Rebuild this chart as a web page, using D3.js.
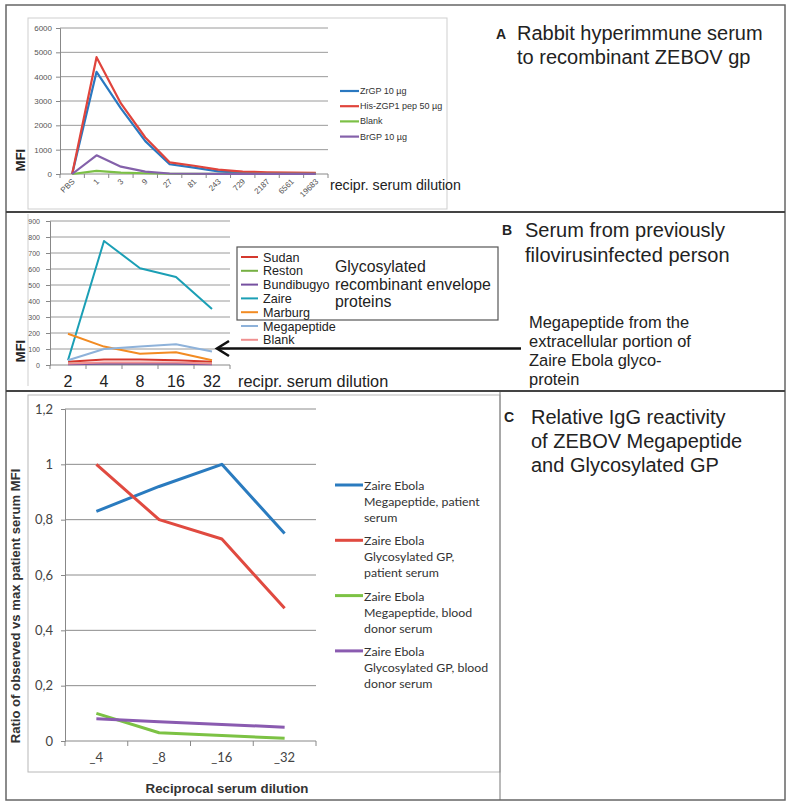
<!DOCTYPE html>
<html><head><meta charset="utf-8">
<script src="https://cdn.jsdelivr.net/npm/d3@7"></script>
<style>body{margin:0;background:#fff}svg{display:block}</style>
</head><body>
<svg id="c" width="789" height="803"></svg>
<script>
// ---------- Panel A data ----------
const catsA = ["PBS","1","3","9","27","81","243","729","2187","6561","19683"];
const ticksA = [0,1000,2000,3000,4000,5000,6000];
const namesA = ["ZrGP 10 µg","His-ZGP1 pep 50 µg","Blank","BrGP 10 µg"];
const colorsA = ["#2a78c0","#e0443c","#7cc046","#8461aa"];
const zrgp   = [0,4200,2700,1350,400,260,110,50,30,20,20];
const hisZgp = [0,4800,2900,1500,480,340,180,100,70,55,50];
const blankA = [0,130,60,30,10,5,5,5,5,5,5];
const brgp   = [0,770,300,100,20,10,5,5,5,5,5];
const seriesA = [zrgp, hisZgp, blankA, brgp];

// ---------- Panel B data ----------
const catsB = ["2","4","8","16","32"];
const ticksB = [0,100,200,300,400,500,600,700,800,900];
const namesB = ["Sudan","Reston","Bundibugyo","Zaire","Marburg","Megapeptide","Blank"];
const colorsB = ["#d4382e","#76b043","#7650a0","#1b9fb5","#f28b22","#8eb2da","#f09090"];
const sudan   = [20,35,35,30,20];
const reston  = [8,10,10,10,8];
const bundi   = [5,8,8,8,5];
const zaire   = [30,775,605,550,350];
const marburg = [195,115,70,80,30];
const megaB   = [30,100,115,130,85];
const blankB  = [10,15,15,15,10];
const seriesB = [sudan, reston, bundi, zaire, marburg, megaB, blankB];

// ---------- Panel C data ----------
const catsC = ["_4","_8","_16","_32"];
const ticksC = [0,0.2,0.4,0.6,0.8,1,1.2];
const namesC = [
  ["Zaire Ebola","Megapeptide, patient","serum"],
  ["Zaire Ebola","Glycosylated GP,","patient serum"],
  ["Zaire Ebola","Megapeptide, blood","donor serum"],
  ["Zaire Ebola","Glycosylated GP, blood","donor serum"]];
const colorsC = ["#2a7bbf","#e04a40","#7cc244","#8a5bb0"];
const megaPatient  = [0.83,0.92,1.0,0.75];
const glycoPatient = [1.0,0.80,0.73,0.48];
const megaDonor    = [0.10,0.03,0.02,0.01];
const glycoDonor   = [0.08,0.07,0.06,0.05];
const seriesC = [megaPatient, glycoPatient, megaDonor, glycoDonor];

const svg = d3.select("#c");
const AR = "'Liberation Sans', Arial, sans-serif";
const CAL = "Lato, 'Open Sans', sans-serif";

// font size that makes a sample string reach a target width
function fitSize(family, weight, sample, target, base){
  const t = svg.append("text").attr("font-family",family).attr("font-weight",weight)
    .attr("font-size",base).text(sample);
  const w = t.node().getComputedTextLength();
  t.remove();
  return w > 0 ? base*target/w : base;
}

svg.append("rect").attr("width",789).attr("height",803).attr("fill","#fff");

// inner chart frames
svg.append("rect").attr("x",28).attr("y",18).attr("width",419).attr("height",191)
  .attr("fill","none").attr("stroke","#cfcfcf");
svg.append("line").attr("x1",28).attr("x2",28).attr("y1",214).attr("y2",386).attr("stroke","#cfcfcf");
svg.append("rect").attr("x",28).attr("y",395).attr("width",472).attr("height",377)
  .attr("fill","none").attr("stroke","#b8b8b8");
svg.append("line").attr("x1",500).attr("x2",500).attr("y1",391).attr("y2",800).attr("stroke","#777");

// outer frame and separators
svg.append("rect").attr("x",6).attr("y",5).attr("width",779).attr("height",795)
  .attr("fill","none").attr("stroke","#666").attr("stroke-width",1.5);
[212,391].forEach(y=>svg.append("line").attr("x1",6).attr("x2",785).attr("y1",y).attr("y2",y)
  .attr("stroke","#444").attr("stroke-width",2));

function panel(opt){
  const g = svg.append("g");
  const x = d3.scaleBand().domain(opt.cats).range([opt.x0,opt.x1]);
  const y = d3.scaleLinear().domain([0,opt.ymax]).range([opt.yb,opt.yt]);
  g.selectAll(".gl").data(opt.ticks.filter(t=>t>0)).join("line")
    .attr("x1",opt.x0).attr("x2",opt.x1).attr("y1",d=>y(d)).attr("y2",d=>y(d))
    .attr("stroke",opt.gcol||"#9a9a9a").attr("stroke-width",1);
  const ya = g.append("g").attr("transform",`translate(${opt.x0},0)`)
    .call(d3.axisLeft(y).tickValues(opt.ticks).tickSize(4).tickPadding(opt.ypad||4).tickFormat(opt.yfmt));
  ya.select(".domain").attr("stroke","#888");
  ya.selectAll(".tick line").attr("stroke","#888");
  ya.selectAll("text").attr("font-family",opt.yfont||AR).attr("font-size",opt.yfs).attr("fill",opt.tcol||"#555");
  const xa = g.append("g").attr("transform",`translate(0,${opt.yb})`);
  xa.append("line").attr("x1",opt.x0).attr("x2",opt.x1).attr("stroke","#888");
  const bounds = opt.cats.map(c=>x(c)).concat([opt.x1]);
  xa.selectAll(".tk").data(bounds).join("line").attr("x1",d=>d).attr("x2",d=>d)
    .attr("y1",0).attr("y2",opt.xtick||4).attr("stroke","#888");
  const lab = xa.selectAll(".lb").data(opt.cats).join("text")
    .attr("font-family",opt.xfont||AR).attr("font-size",opt.xfs).attr("fill",opt.xcol||"#555").text(d=>d);
  if(opt.rot){
    lab.attr("text-anchor","end")
      .attr("transform",d=>`translate(${x(d)+x.bandwidth()/2+3},${8}) rotate(-45)`);
  } else {
    lab.attr("text-anchor","middle").attr("x",d=>x(d)+x.bandwidth()/2).attr("y",opt.xly);
  }
  const line = d3.line().x((d,i)=>x(opt.cats[i])+x.bandwidth()/2).y(d=>y(d));
  opt.series.forEach((s,i)=>{
    g.append("path").datum(s).attr("d",line).attr("fill","none")
      .attr("stroke",opt.colors[i]).attr("stroke-width",opt.lw).attr("stroke-linejoin","round");
  });
  return {x,y,g};
}

// ---------- Panel A ----------
panel({cats:catsA,ticks:ticksA,ymax:6000,x0:60,x1:328,yb:174,yt:28,yfs:8,xfs:8,rot:true,
  series:seriesA,colors:colorsA,lw:2.2,yfmt:d3.format("d")});
const legA = svg.append("g");
namesA.forEach((n,i)=>{
  const yy = 91 + i*15.2;
  legA.append("line").attr("x1",340).attr("x2",359).attr("y1",yy).attr("y2",yy)
    .attr("stroke",colorsA[i]).attr("stroke-width",2.2);
  legA.append("text").attr("x",360).attr("y",yy+3).attr("font-family",AR).attr("font-size",9)
    .attr("fill","#333").text(n);
});
svg.append("text").attr("x",330).attr("y",190).attr("font-family",AR).attr("font-size",14.2)
  .attr("fill","#222").text("recipr. serum dilution");
svg.append("text").attr("transform","translate(25,160) rotate(-90)").attr("text-anchor","middle")
  .attr("font-family",AR).attr("font-weight","bold").attr("font-size",13).attr("fill","#222").text("MFI");
svg.append("text").attr("x",496).attr("y",39).attr("font-family",AR).attr("font-weight","bold")
  .attr("font-size",14).attr("fill","#222").text("A");
svg.append("text").attr("x",517).attr("y",40).attr("font-family",AR).attr("font-size",20)
  .attr("fill","#222").text("Rabbit hyperimmune serum");
svg.append("text").attr("x",517).attr("y",64).attr("font-family",AR).attr("font-size",20)
  .attr("fill","#222").text("to recombinant ZEBOV gp");

// ---------- Panel B ----------
panel({cats:catsB,ticks:ticksB,ymax:900,x0:50,x1:230,yb:365,yt:221,yfs:7,xfs:16,xly:22,xcol:"#222",
  series:seriesB,colors:colorsB,lw:2,yfmt:d3.format("d"),ypad:6});
svg.append("text").attr("x",238).attr("y",387).attr("font-family",AR).attr("font-size",16.3)
  .attr("fill","#222").text("recipr. serum dilution");
svg.append("text").attr("transform","translate(25,351) rotate(-90)").attr("text-anchor","middle")
  .attr("font-family",AR).attr("font-weight","bold").attr("font-size",13).attr("fill","#222").text("MFI");
svg.append("rect").attr("x",237).attr("y",247).attr("width",261).attr("height",73)
  .attr("fill","#fff").attr("stroke","#555").attr("stroke-width",1.2);
const legB = svg.append("g");
namesB.forEach((n,i)=>{
  const yy = 257 + i*13.8;
  legB.append("line").attr("x1",241).attr("x2",258).attr("y1",yy).attr("y2",yy)
    .attr("stroke",colorsB[i]).attr("stroke-width",2);
  legB.append("text").attr("x",263).attr("y",yy+4.5).attr("font-family",AR).attr("font-size",12.6)
    .attr("fill","#222").text(n);
});
const fsGly = fitSize(AR, "normal", "recombinant envelope", 156, 15);
["Glycosylated","recombinant envelope","proteins"].forEach((t,i)=>{
  svg.append("text").attr("x",335).attr("y",272+i*17.5).attr("font-family",AR).attr("font-size",fsGly)
    .attr("fill","#222").text(t);
});
svg.append("line").attr("x1",217).attr("x2",521).attr("y1",348.5).attr("y2",348.5)
  .attr("stroke","#111").attr("stroke-width",2.6);
svg.append("path").attr("d","M229,341 L217,348.5 L229,356").attr("fill","none")
  .attr("stroke","#111").attr("stroke-width",2.6);
const fsMega = fitSize(AR, "normal", "extracellular portion of", 162, 14);
["Megapeptide from the","extracellular portion of","Zaire Ebola glyco-","protein"].forEach((t,i)=>{
  svg.append("text").attr("x",529).attr("y",328+i*19).attr("font-family",AR).attr("font-size",fsMega)
    .attr("fill","#222").text(t);
});
svg.append("text").attr("x",502).attr("y",235).attr("font-family",AR).attr("font-weight","bold")
  .attr("font-size",14).attr("fill","#222").text("B");
svg.append("text").attr("x",525).attr("y",237).attr("font-family",AR).attr("font-size",20)
  .attr("fill","#222").text("Serum from previously");
svg.append("text").attr("x",525).attr("y",262).attr("font-family",AR).attr("font-size",20)
  .attr("fill","#222").text("filovirusinfected person");

// ---------- Panel C ----------
const commaFmt = d => d===0 ? "0" : String(+d.toFixed(1)).replace(".",",");
panel({cats:catsC,ticks:ticksC,ymax:1.2,x0:65,x1:316,yb:741,yt:409,yfs:13,xfs:13,xly:21,
  yfont:CAL,xfont:CAL,tcol:"#444",xcol:"#444",xtick:5,ypad:8,gcol:"#8c8c8c",
  series:seriesC,colors:colorsC,lw:3,yfmt:commaFmt});
const yTitle = "Ratio of observed vs max patient serum MFI";
svg.append("text").attr("transform","translate(20,606) rotate(-90)").attr("text-anchor","middle")
  .attr("font-family",AR).attr("font-weight","bold").attr("font-size",fitSize(AR,"bold",yTitle,275,12))
  .attr("fill","#333").text(yTitle);
const xTitle = "Reciprocal serum dilution";
svg.append("text").attr("x",227).attr("y",793).attr("text-anchor","middle")
  .attr("font-family",AR).attr("font-weight","bold").attr("font-size",fitSize(AR,"bold",xTitle,163,12))
  .attr("fill","#333").text(xTitle);
const fsLegC = fitSize(CAL, "normal", "Megapeptide, patient", 116, 13);
const legC = svg.append("g");
namesC.forEach((lines,i)=>{
  const yy = 485 + i*55.3;
  legC.append("line").attr("x1",335).attr("x2",363).attr("y1",yy).attr("y2",yy)
    .attr("stroke",colorsC[i]).attr("stroke-width",3);
  lines.forEach((t,j)=>{
    legC.append("text").attr("x",364).attr("y",yy+5+j*16).attr("font-family",CAL).attr("font-size",fsLegC)
      .attr("fill","#333").text(t);
  });
});
svg.append("text").attr("x",504).attr("y",422).attr("font-family",AR).attr("font-weight","bold")
  .attr("font-size",14).attr("fill","#222").text("C");
[["Relative IgG reactivity",424],["of ZEBOV Megapeptide",448],["and Glycosylated GP",472]].forEach(([t,yy])=>{
  svg.append("text").attr("x",531).attr("y",yy).attr("font-family",AR).attr("font-size",20)
    .attr("fill","#222").text(t);
});
</script>
</body></html>
